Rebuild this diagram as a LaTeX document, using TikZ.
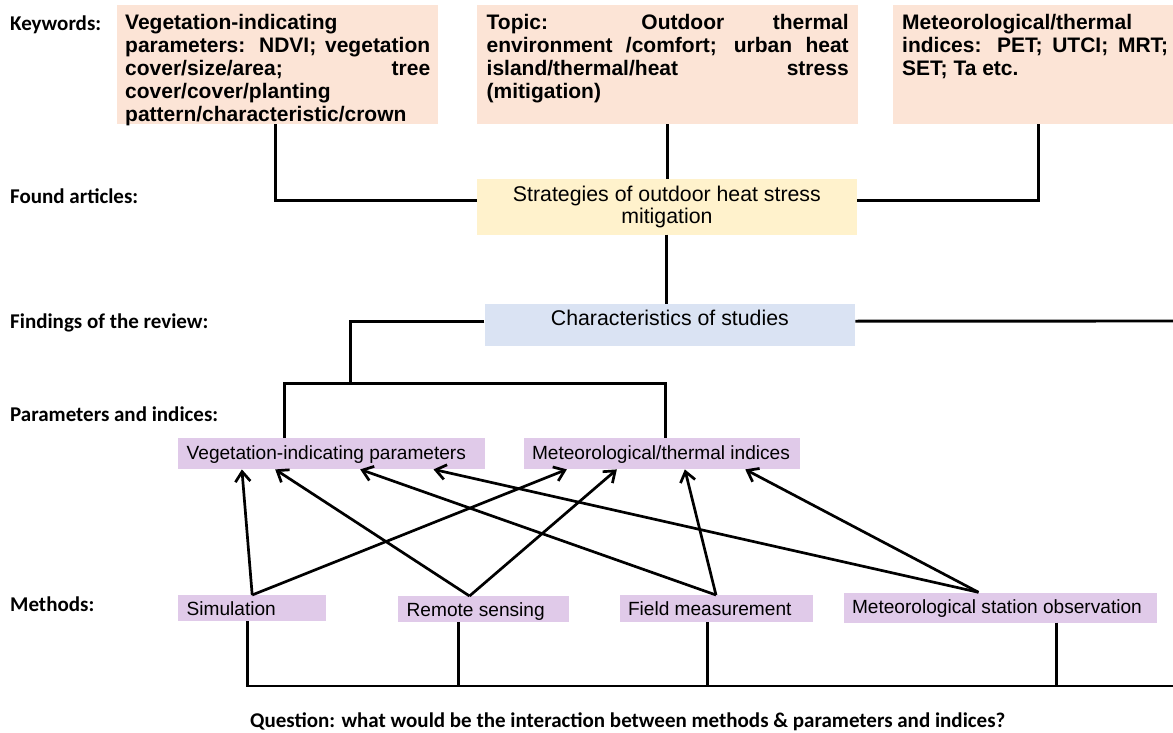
\documentclass[tikz,border=0pt]{standalone}
\usepackage{fontspec}
\setmainfont{Liberation Sans}
\newfontfamily\lblfont{Carlito}
\usetikzlibrary{arrows.meta}
\definecolor{peach}{HTML}{FCE4D6}
\definecolor{ylw}{HTML}{FFF2CC}
\definecolor{blu}{HTML}{DAE3F3}
\definecolor{prp}{HTML}{E0CAE9}
\newcommand{\spread}[1]{\makebox[\linewidth][s]{#1}}
\newcommand{\kwtext}[2]{\parbox[t][119pt][t]{#1}{\fontsize{21}{23}\selectfont\bfseries\raggedright\rule{0pt}{24pt}#2}}
\newcommand{\midtext}[4]{\parbox[t][#2][t]{#1}{\fontsize{21.3}{21.6}\selectfont\centering\rule{0pt}{#3}#4}}
\newcommand{\ptext}[4]{\parbox[t][#2][t]{#1}{\fontsize{19.1}{21}\selectfont\raggedright\rule{0pt}{#3}\mbox{#4}}}
\begin{document}
\begin{tikzpicture}[x=1pt,y=-1pt,
  conn/.style={line width=2.9pt, line join=miter},
  arr/.style={line width=2.7pt, -{Straight Barb[length=10pt,width=15pt]}},
  kwbox/.style={fill=peach, inner sep=0pt, anchor=north west},
  midbox/.style={inner sep=0pt, anchor=north west},
  pbox/.style={fill=prp, inner ysep=0pt, inner xsep=8.5pt, anchor=north west},
  lbl/.style={anchor=base west, inner sep=0pt, font=\lblfont\bfseries\fontsize{21}{24}\selectfont}]
\useasboundingbox (0,0) rectangle (1173,733);

% labels
\node[lbl] (l1) at (10,30.5) {Keywords:};
\node[lbl] (l2) at (10,203) {Found articles:};
\node[lbl] (l3) at (10,328) {Findings of the review:};
\node[lbl] (l4) at (10,421.5) {Parameters and indices:};
\node[lbl] (l5) at (10,611) {Methods:};
\node[lbl] (q) at (250,727) {Question: what would be the interaction between methods \& parameters and indices?};

% keyword boxes
\node[kwbox, inner xsep=8pt] (kw1) at (117,5) {\kwtext{305pt}{Vegetation-indicating\\ \spread{parameters: NDVI; vegetation}\\ \spread{cover/size/area; tree}\\ cover/cover/planting\\ pattern/characteristic/crown}};
\node[kwbox, inner xsep=9.5pt] (kw2) at (477,5) {\kwtext{362pt}{\spread{Topic: Outdoor thermal}\\ \spread{environment /comfort; urban heat}\\ \spread{island/thermal/heat stress}\\ (mitigation)}};
\node[kwbox, inner xsep=0pt] (kw3) at (893,5) {\hspace*{9pt}\kwtext{266pt}{Meteorological/thermal\\ \spread{indices: PET; UTCI; MRT;}\\ SET; Ta etc.}\hspace*{5pt}};

% middle boxes
\node[midbox, fill=ylw] (strat) at (476.7,179) {\midtext{380pt}{55.3pt}{22.7pt}{Strategies of outdoor heat stress\\ mitigation}};
\node[midbox, fill=blu] (char) at (484.3,304) {\midtext{370.7pt}{42pt}{21.7pt}{Characteristics of studies}};

% parameter boxes
\node[pbox] (veg) at (178,438) {\ptext{290pt}{31pt}{21.3pt}{Vegetation-indicating parameters}};
\node[pbox] (met) at (523.3,438) {\ptext{259.7pt}{31pt}{21.3pt}{Meteorological/thermal indices}};

% method boxes
\node[pbox] (sim) at (178,595) {\ptext{131pt}{26pt}{20pt}{Simulation}};
\node[pbox] (rs) at (398,596) {\ptext{154pt}{25.7pt}{20pt}{Remote sensing}};
\node[pbox] (fm) at (619.3,595) {\ptext{176pt}{26.7pt}{20pt}{Field measurement}};
\node[pbox] (mso) at (843.3,592.3) {\ptext{296.4pt}{30pt}{21pt}{Meteorological station observation}};

% connectors top
\draw[conn] ([xshift=-2.5pt]kw1.south) |- ([yshift=6pt]strat.west);
\draw[conn] (kw2.south) -- (kw2.south |- strat.north);
\draw[conn] ([xshift=5pt]kw3.south) |- ([yshift=6pt]strat.east);
\draw[conn] (strat.south) -- (strat.south |- char.north);

\coordinate (ja) at (350.5,383.3);
\coordinate (jl) at (284.3,383.3);
\coordinate (jr) at (665.2,383.3);
\coordinate (rend) at (1173,321);
\draw[conn] ([yshift=4pt]char.west) -| (ja);
\draw[conn] (veg.north -| jl) -- (jl) -- (jr) -- (met.north -| jr);
\draw[conn] ([yshift=4pt]char.east) -- (rend);

% bottom connectors
\coordinate (b1) at (247.7,686);
\coordinate (b2) at (458.3,686);
\coordinate (b3) at (707.3,686);
\coordinate (b4) at (1056.7,686);
\coordinate (bend) at (1173,686);
\draw[conn] (sim.south -| b1) -- (b1) -- (bend);
\draw[conn] (rs.south -| b2) -- (b2);
\draw[conn] (fm.south -| b3) -- (b3);
\draw[conn] (mso.south -| b4) -- (b4);

% arrows
\draw[arr] (sim.north) -- ([xshift=-89.8pt]veg.south);
\draw[arr] (sim.north) -- ([xshift=-95pt]met.south);
\draw[arr] ([xshift=-14.2pt]rs.north) -- ([xshift=-56.5pt]veg.south);
\draw[arr] ([xshift=-14.2pt]rs.north) -- ([xshift=-45pt]met.south);
\draw[arr] (fm.north) -- ([xshift=28.5pt]veg.south);
\draw[arr] (fm.north) -- ([xshift=23pt]met.south);
\draw[arr] ([xshift=-21.7pt]mso.north) -- ([xshift=101.8pt]veg.south);
\draw[arr] ([xshift=-21.7pt]mso.north) -- ([xshift=83.4pt]met.south);
\end{tikzpicture}
\end{document}
